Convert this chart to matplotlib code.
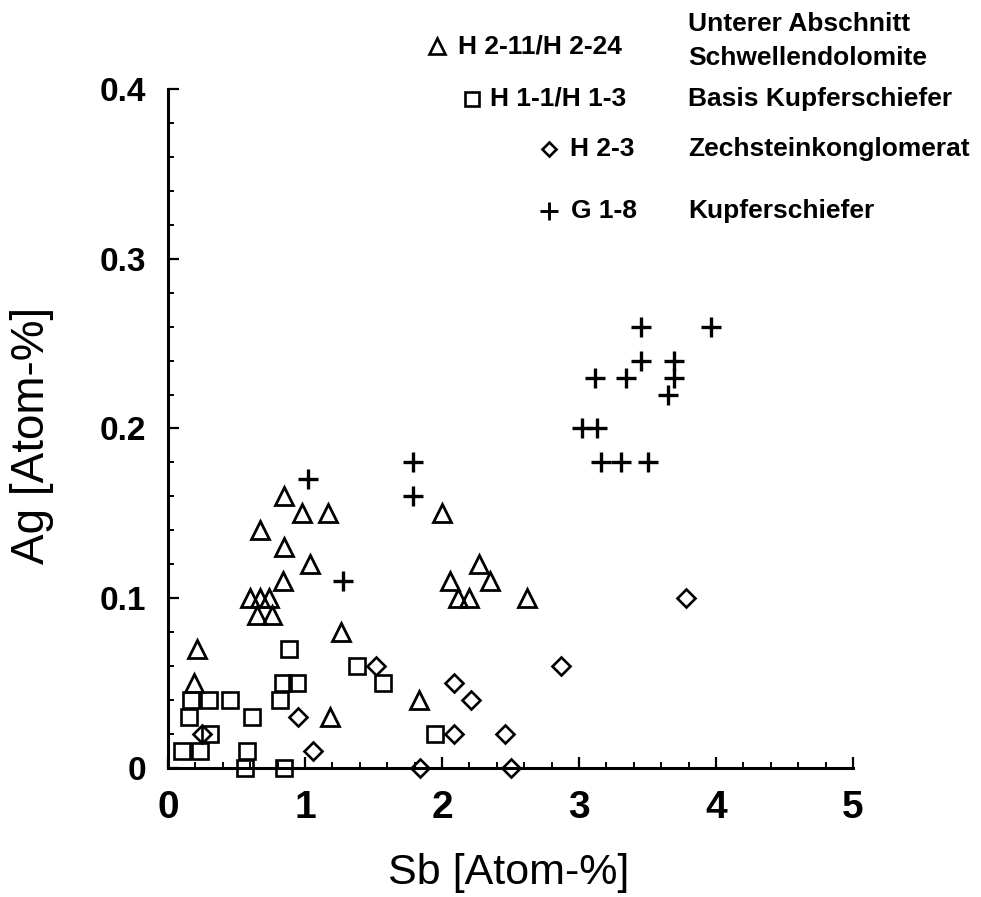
import matplotlib
matplotlib.use("Agg")
import matplotlib.pyplot as plt
from matplotlib.ticker import MultipleLocator
from matplotlib.lines import Line2D

plt.rcParams['font.family'] = ['Liberation Sans', 'DejaVu Sans']

# Triangles: H 2-11/H 2-24 (Unterer Abschnitt Schwellendolomite)
tri_sb = [0.21, 0.19, 0.67, 0.85, 0.98, 1.17, 0.85, 1.04, 0.84, 0.60, 0.67, 0.74,
          0.65, 0.76, 1.26, 1.18, 1.83, 2.00, 2.27, 2.06, 2.35, 2.12, 2.20, 2.62]
tri_ag = [0.07, 0.05, 0.14, 0.16, 0.15, 0.15, 0.13, 0.12, 0.11, 0.10, 0.10, 0.10,
          0.09, 0.09, 0.08, 0.03, 0.04, 0.15, 0.12, 0.11, 0.11, 0.10, 0.10, 0.10]

# Squares: H 1-1/H 1-3 (Basis Kupferschiefer)
sq_sb = [0.88, 1.38, 1.57, 0.84, 0.94, 0.17, 0.30, 0.45, 0.82, 0.15, 0.61,
         0.31, 0.10, 0.23, 0.58, 0.56, 0.85, 1.95]
sq_ag = [0.07, 0.06, 0.05, 0.05, 0.05, 0.04, 0.04, 0.04, 0.04, 0.03, 0.03,
         0.02, 0.01, 0.01, 0.01, 0.00, 0.00, 0.02]

# Diamonds: H 2-3 (Zechsteinkonglomerat)
di_sb = [0.25, 0.95, 1.06, 1.52, 2.09, 2.21, 2.09, 2.46, 1.84, 2.50, 2.87, 3.78]
di_ag = [0.02, 0.03, 0.01, 0.06, 0.05, 0.04, 0.02, 0.02, 0.00, 0.00, 0.06, 0.10]

# Plus: G 1-8 (Kupferschiefer)
pl_sb = [1.02, 1.28, 1.79, 1.79, 3.45, 3.96, 3.45, 3.69, 3.69, 3.12, 3.34, 3.65,
         3.02, 3.13, 3.16, 3.31, 3.50]
pl_ag = [0.17, 0.11, 0.16, 0.18, 0.26, 0.26, 0.24, 0.24, 0.23, 0.23, 0.23, 0.22,
         0.20, 0.20, 0.18, 0.18, 0.18]

x_ticks = [0, 1, 2, 3, 4, 5]
x_ticklabels = ['0', '1', '2', '3', '4', '5']
y_ticks = [0, 0.1, 0.2, 0.3, 0.4]
y_ticklabels = ['0', '0.1', '0.2', '0.3', '0.4']

codes = ["H 2-11/H 2-24", "H 1-1/H 1-3", "H 2-3", "G 1-8"]
names = ["Unterer Abschnitt\nSchwellendolomite", "Basis Kupferschiefer",
         "Zechsteinkonglomerat", "Kupferschiefer"]

W, H = 981, 897
fig = plt.figure(figsize=(W / 100, H / 100), dpi=100)
ax = fig.add_axes([168 / W, 1 - 768 / H, (853 - 168) / W, (768 - 89) / H])

kw = dict(linestyle='none', color='black', markerfacecolor='none', clip_on=False, zorder=3)
ax.plot(tri_sb, tri_ag, marker='^', markersize=13, markeredgewidth=2.0, **kw)
ax.plot(sq_sb, sq_ag, marker='s', markersize=11, markeredgewidth=1.9, **kw)
ax.plot(di_sb, di_ag, marker='D', markersize=9.3, markeredgewidth=1.9, **kw)
ax.plot(pl_sb, pl_ag, marker='+', markersize=14.5, markeredgewidth=2.4, **kw)

ax.spines['top'].set_visible(False)
ax.spines['right'].set_visible(False)
for s in ('left', 'bottom'):
    ax.spines[s].set_linewidth(2.2)

ax.set_xticks(x_ticks)
ax.set_xticklabels(x_ticklabels)
ax.set_yticks(y_ticks)
ax.set_yticklabels(y_ticklabels)
ax.xaxis.set_minor_locator(MultipleLocator(0.2))
ax.yaxis.set_minor_locator(MultipleLocator(0.02))
ax.set_xlim(0, 5)
ax.set_ylim(0, 0.4)

ax.tick_params(which='major', direction='in', length=8, width=1.6)
ax.tick_params(which='minor', direction='in', length=4, width=1.4)
ax.tick_params(axis='x', which='major', labelsize=28, pad=16)
ax.tick_params(axis='y', which='major', labelsize=24, pad=16)
for lab in ax.get_xticklabels() + ax.get_yticklabels():
    lab.set_fontweight('bold')


def fx(px):
    return px / W


def fy(py):
    return 1 - py / H


# Axis titles
fig.text(fx(509), fy(873), "Sb [Atom-%]", fontsize=31, ha='center', va='center')
fig.text(fx(32), fy(435), "Ag [Atom-%]", fontsize=33, ha='center', va='center',
         rotation=90)

# Legend drawn manually (figure pixel coordinates)
leg_rows = [
    ('^', 11, 1.9, 437, 46, 458, [24, 58]),
    ('s', 10, 1.9, 472, 99, 490, [99]),
    ('D', 7.2, 1.9, 549, 149, 570, [149]),
    ('+', 13, 2.1, 549, 211, 571, [211]),
]
for (mk, ms, mew, mx, my, tx, dys), code, name in zip(leg_rows, codes, names):
    fig.add_artist(Line2D([fx(mx)], [fy(my)], marker=mk, markersize=ms,
                          markeredgewidth=mew, color='black', markerfacecolor='none',
                          linestyle='none', transform=fig.transFigure))
    fig.text(fx(tx), fy(my), code, fontsize=19, fontweight='bold',
             ha='left', va='center')
    for line, dy in zip(name.split('\n'), dys):
        fig.text(fx(688), fy(dy), line, fontsize=19, fontweight='bold',
                 ha='left', va='center')

fig.savefig("out.png", dpi=100)
